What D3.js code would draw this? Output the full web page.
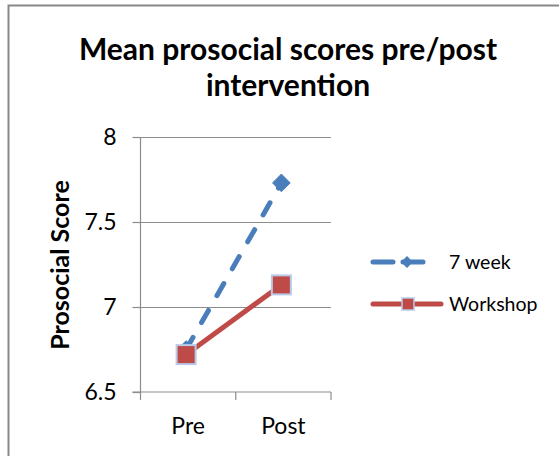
<!DOCTYPE html>
<html><head><meta charset="utf-8">
<script src="https://cdn.jsdelivr.net/npm/d3@7"></script>
<style>body{margin:0;background:#fff}svg{display:block}text{font-family:Lato,"Open Sans",sans-serif}</style>
</head><body><svg id="c" width="559" height="456"></svg>
<script>
const categories = ["Pre", "Post"];
const week7 = [6.75, 7.73];
const workshop = [6.72, 7.13];
const yTicks = [6.5, 7, 7.5, 8];
const seriesNames = ["7 week", "Workshop"];

const svg = d3.select("#c");
svg.append("rect").attr("x", 8.5).attr("y", 5.5).attr("width", 600).attr("height", 500)
  .attr("fill", "none").attr("stroke", "#888").attr("stroke-width", 2);

const L = 140.5, R = 331, T = 137, B = 392;
const x = d3.scaleBand().domain(categories).range([L, R]);
const y = d3.scaleLinear().domain([6.5, 8]).range([B, T]);

svg.append("g").selectAll("line").data(yTicks.filter(d => d > 6.5)).join("line")
  .attr("x1", L).attr("x2", R).attr("y1", d => Math.round(y(d)) + 0.5).attr("y2", d => Math.round(y(d)) + 0.5)
  .attr("stroke", "#8c8c8c").attr("stroke-width", 1.2);

const ya = svg.append("g").attr("transform", `translate(${L},0)`)
  .call(d3.axisLeft(y).tickValues(yTicks).tickSize(8).tickFormat(d3.format("")));
ya.select(".domain").attr("stroke", "#8c8c8c").attr("stroke-width", 1.2).attr("d", `M0,${T}V${B}`);
ya.selectAll(".tick line").attr("stroke", "#8c8c8c").attr("stroke-width", 1.2);
ya.selectAll(".tick text").attr("font-size", 23).attr("fill", "#000").attr("x", -24).attr("dy", "0.34em")
  .style("font-family", "Lato");

const xa = svg.append("g").attr("transform", `translate(0,${B})`)
  .call(d3.axisBottom(x).tickSize(0));
xa.select(".domain").attr("stroke", "#8c8c8c").attr("stroke-width", 1.2).attr("d", `M${L - 8},0H${R}`);
xa.selectAll(".tick text").attr("font-size", 23).attr("fill", "#000").attr("y", 26).attr("dy", "0.71em")
  .style("font-family", "Lato");
svg.append("g").selectAll("line").data(categories).join("line")
  .attr("x1", d => x(d) + x.bandwidth()).attr("x2", d => x(d) + x.bandwidth())
  .attr("y1", B).attr("y2", B + 8).attr("stroke", "#8c8c8c").attr("stroke-width", 1.2);
svg.append("line").attr("x1", L).attr("x2", L).attr("y1", B).attr("y2", B + 8).attr("stroke", "#8c8c8c").attr("stroke-width", 1.2);

const cx = d => x(d) + x.bandwidth() / 2 - 2;
const line = d3.line().x((d, i) => cx(categories[i])).y(d => y(d));

const blue = "#4a7ebb", red = "#be4b48";
svg.append("path").datum(week7).attr("d", line).attr("fill", "none").attr("stroke", blue)
  .attr("stroke-width", 5).attr("stroke-linecap", "round").attr("stroke-dasharray", "14,17");
svg.append("g").selectAll("path").data(week7).join("path")
  .attr("transform", (d, i) => `translate(${cx(categories[i])},${y(d)})`)
  .attr("d", d3.symbol(d3.symbolDiamond2, 200)).attr("fill", blue).attr("stroke", blue).attr("stroke-width", 1);

svg.append("path").datum(workshop).attr("d", line).attr("fill", "none").attr("stroke", red).attr("stroke-width", 5);
svg.append("g").selectAll("rect").data(workshop).join("rect")
  .attr("x", (d, i) => cx(categories[i]) - 9.5).attr("y", d => y(d) - 9.5).attr("width", 19).attr("height", 19)
  .attr("fill", red).attr("stroke", "#b9c9e8").attr("stroke-width", 2);

const lg = svg.append("g");
const ly = [262, 304];
lg.append("line").attr("x1", 373).attr("x2", 432).attr("y1", ly[0]).attr("y2", ly[0]).attr("stroke", blue)
  .attr("stroke-width", 5).attr("stroke-linecap", "round").attr("stroke-dasharray", "20,10");
lg.append("path").attr("transform", `translate(407,${ly[0]})`).attr("d", d3.symbol(d3.symbolDiamond2, 90)).attr("fill", blue);
lg.append("line").attr("x1", 373).attr("x2", 441).attr("y1", ly[1]).attr("y2", ly[1]).attr("stroke", red)
  .attr("stroke-width", 5).attr("stroke-linecap", "round");
lg.append("rect").attr("x", 402).attr("y", ly[1] - 6).attr("width", 12).attr("height", 12).attr("fill", red).attr("stroke", "#b9c9e8").attr("stroke-width", 1.5);
lg.selectAll("text").data(seriesNames).join("text")
  .attr("x", 449).attr("y", (d, i) => ly[i]).attr("dy", "0.35em").attr("font-size", 19.5).text(d => d);

svg.append("text").attr("x", 288).attr("y", 60).attr("text-anchor", "middle").attr("font-size", 30)
  .attr("font-weight", "bold").text("Mean prosocial scores pre/post");
svg.append("text").attr("x", 288).attr("y", 96).attr("text-anchor", "middle").attr("font-size", 30)
  .attr("font-weight", "bold").text("intervention");

svg.append("text").attr("transform", "translate(69,265) rotate(-90)").attr("text-anchor", "middle")
  .attr("font-size", 25).attr("font-weight", "bold").text("Prosocial Score");
</script></body></html>
